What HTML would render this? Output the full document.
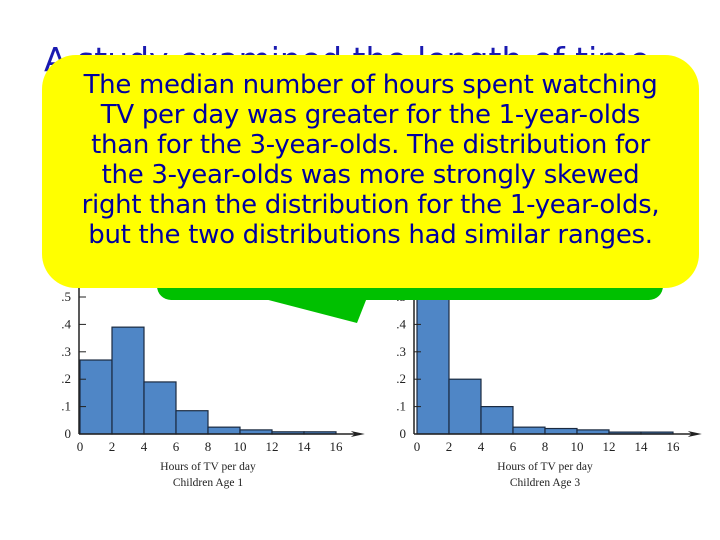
<!DOCTYPE html>
<html><head><meta charset="utf-8"><style>
body{margin:0;width:720px;height:540px;background:#fff;overflow:hidden;position:relative;font-family:"Liberation Serif",serif}
#title{position:absolute;left:44px;top:40px;font:33px "DejaVu Sans",sans-serif;color:#1a1ab0;white-space:nowrap}
#green{position:absolute;left:157px;top:200px;width:506px;height:100px;background:#00c000;border-radius:14px}
#yellow{position:absolute;left:42px;top:55px;width:657px;height:233px;background:#ffff00;border-radius:34px;text-align:center;font:26px "DejaVu Sans",sans-serif;color:#0000a0;line-height:30px;padding-top:15px;box-sizing:border-box;letter-spacing:-0.3px;white-space:nowrap}
svg{position:absolute;left:0;top:0}
</style></head><body>
<div id="title">A study examined the length of time</div>
<svg width="720" height="540">
<g id="c1"></g>
<g id="c3"></g>
</svg>
<div id="green"></div>
<svg width="720" height="540" style="pointer-events:none"><polygon points="230,290 370,290 357,323" fill="#00c000"/></svg>
<div id="yellow">The median number of hours spent watching<br>TV per day was greater for the 1-year-olds<br>than for the 3-year-olds. The distribution for<br>the 3-year-olds was more strongly skewed<br>right than the distribution for the 1-year-olds,<br>but the two distributions had similar ranges.</div>
<script>
const bins=[0,2,4,6,8,10,12,14];
const age1=[0.27,0.39,0.19,0.085,0.025,0.015,0.008,0.008];
const age3=[0.55,0.2,0.1,0.025,0.02,0.015,0.007,0.007];
const xTicks=[0,2,4,6,8,10,12,14,16];
const yTicks=[0,0.1,0.2,0.3,0.4,0.5];
const yLabels=["0",".1",".2",".3",".4",".5"];
const NS="http://www.w3.org/2000/svg";
function mk(p,t,a){const e=document.createElementNS(NS,t);for(const k in a)e.setAttribute(k,a[k]);p.appendChild(e);return e;}
function draw(g,x0,axisX,vals,title){
  const base=434,ppu=274,ppx=16;
  const X=v=>x0+v*ppx, Y=v=>base-v*ppu;
  vals.forEach((v,i)=>{const r=mk(g,'rect',{x:X(bins[i]),y:Y(v),width:2*ppx,height:v*ppu,fill:'#4f86c6',stroke:'#1a2a40','stroke-width':1.2});
    
    });
  mk(g,'line',{x1:axisX,y1:base,x2:X(17.5),y2:base,stroke:'#222','stroke-width':1.5});
  mk(g,'polygon',{points:`${X(17.8)},${base} ${X(17.8)-14},${base-3} ${X(17.8)-10},${base} ${X(17.8)-14},${base+3}`,fill:'#222'});
  mk(g,'line',{x1:axisX,y1:base,x2:axisX,y2:Y(0.57),stroke:'#222','stroke-width':1.5});
  yTicks.forEach((v,i)=>{mk(g,'line',{x1:axisX,y1:Y(v),x2:axisX+7,y2:Y(v),stroke:'#222'});
    const t=mk(g,'text',{x:axisX-8,y:Y(v)+4,'font-size':13,'text-anchor':'end',fill:'#222'});t.textContent=yLabels[i];
    
    });
  xTicks.forEach(v=>{const t=mk(g,'text',{x:X(v),y:451,'font-size':13,'text-anchor':'middle',fill:'#222'});t.textContent=v;
    
    });
  const a=mk(g,'text',{x:X(8),y:470,'font-size':11.5,'text-anchor':'middle',fill:'#222'});a.textContent='Hours of TV per day';
  
  
  const b=mk(g,'text',{x:X(8),y:486,'font-size':11.5,'text-anchor':'middle',fill:'#222'});b.textContent=title;
  
  
}
draw(document.getElementById('c1'),80,79,age1,'Children Age 1');
draw(document.getElementById('c3'),417,414,age3,'Children Age 3');
</script>
</body></html>
